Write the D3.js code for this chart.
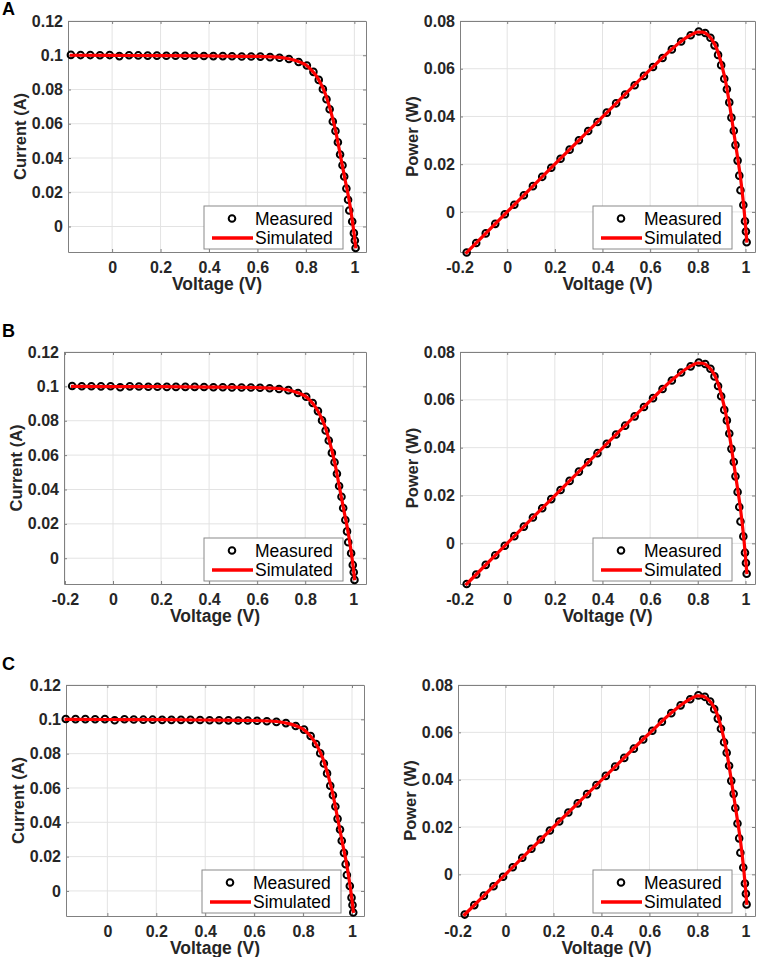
<!DOCTYPE html>
<html>
<head>
<meta charset="utf-8">
<script src="https://cdn.jsdelivr.net/npm/d3@7"></script>
<style>
  body { margin: 0; background: #fff; }
  svg { display: block; font-family: "Liberation Sans", Arial, sans-serif; }
  .tick text { font-weight: bold; font-size: 16px; fill: #262626; }
  .label { font-weight: bold; font-size: 17.5px; fill: #262626; }
  .ylabel { font-size: 16.5px; }
  .letter { font-weight: bold; font-size: 18px; fill: #000; }
  .legend text { font-size: 17.5px; fill: #000; }
</style>
</head>
<body>
<div id="chart-container"></div>
<script>
const svgWidth = 761,
    svgHeight = 957;

// measured points (same test data shown in rows A, B and C)
const voltage = [-0.17, -0.13, -0.09, -0.05, -0.01, 0.03, 0.07, 0.108, 0.147, 0.185,
    0.224, 0.262, 0.301, 0.34, 0.379, 0.418, 0.457, 0.495, 0.535, 0.574,
    0.612, 0.652, 0.691, 0.73, 0.77, 0.804, 0.831, 0.853, 0.87, 0.885,
    0.898, 0.911, 0.922, 0.932, 0.941, 0.951, 0.958, 0.967, 0.974, 0.979,
    0.991, 0.998, 1.002, 1.005];
const currentMeasured = [0.1002, 0.1001, 0.1001, 0.1, 0.1001, 0.0995, 0.1, 0.0999, 0.0998, 0.0998,
    0.0997, 0.0997, 0.0997, 0.0997, 0.0996, 0.0995, 0.0995, 0.0994, 0.0993, 0.0993,
    0.0992, 0.0989, 0.0985, 0.0978, 0.0961, 0.094, 0.0903, 0.0856, 0.0802, 0.0743,
    0.0685, 0.0613, 0.0558, 0.0492, 0.042, 0.0358, 0.0292, 0.0222, 0.0156, 0.0093,
    0.0029, -0.0039, -0.0082, -0.0126];
const powerMeasured = [-0.017, -0.013, -0.009, -0.005, -0.001, 0.003, 0.007, 0.0108, 0.0147, 0.0185,
    0.0223, 0.0261, 0.03, 0.0339, 0.0377, 0.0416, 0.0455, 0.0492, 0.0531, 0.057,
    0.0607, 0.0645, 0.0681, 0.0714, 0.074, 0.0756, 0.075, 0.073, 0.0698, 0.0658,
    0.0615, 0.0558, 0.0514, 0.0459, 0.0395, 0.034, 0.028, 0.0215, 0.0152, 0.0091,
    0.0029, -0.0039, -0.0082, -0.0127];

// simulated curve
const simVoltage = [-0.175, 0, 0.2, 0.4, 0.6, 0.7, 0.75, 0.78, 0.8, 0.82, 0.84, 0.86,
    0.88, 0.9, 0.92, 0.94, 0.96, 0.98, 0.99, 1.0, 1.006];
const simCurrent = [0.1, 0.0999, 0.0998, 0.0996, 0.0993, 0.0986, 0.0972, 0.0957, 0.0943, 0.0918, 0.0885, 0.0838,
    0.0775, 0.0685, 0.0575, 0.0432, 0.0285, 0.014, 0.005, -0.0055, -0.0128];
const simPower = [-0.0175, 0, 0.02, 0.0398, 0.0596, 0.069, 0.0729, 0.0746, 0.0754, 0.0753, 0.0743, 0.0721,
    0.0682, 0.0617, 0.0529, 0.0406, 0.0274, 0.0137, 0.005, -0.0055, -0.0129];

const currentTicks = [0, 0.02, 0.04, 0.06, 0.08, 0.1, 0.12];
const powerTicks = [0, 0.02, 0.04, 0.06, 0.08];
const voltageTicks = [0, 0.2, 0.4, 0.6, 0.8, 1];
const voltageTicksNeg = [-0.2, 0, 0.2, 0.4, 0.6, 0.8, 1];

const rowLetters = ["A", "B", "C"];

// panel boxes in pixels (left, right, top, bottom) and axis limits
const panels = [
    { row: 0, kind: "iv", l: 68, r: 366, t: 21, b: 252, xd: [-0.182, 1.048], yd: [-0.0149, 0.12], xt: voltageTicks },
    { row: 0, kind: "pv", l: 460, r: 755, t: 21, b: 252, xd: [-0.198, 1.04], yd: [-0.0168, 0.08], xt: voltageTicksNeg },
    { row: 1, kind: "iv", l: 64, r: 366, t: 352, b: 584, xd: [-0.204, 1.053], yd: [-0.015, 0.12], xt: voltageTicksNeg },
    { row: 1, kind: "pv", l: 460, r: 755, t: 352, b: 584, xd: [-0.198, 1.04], yd: [-0.017, 0.08], xt: voltageTicksNeg },
    { row: 2, kind: "iv", l: 66, r: 364, t: 685, b: 916, xd: [-0.169, 1.049], yd: [-0.0146, 0.12], xt: voltageTicks },
    { row: 2, kind: "pv", l: 458, r: 755, t: 685, b: 916, xd: [-0.198, 1.04], yd: [-0.0176, 0.08], xt: voltageTicksNeg }
];
const letterY = [15, 337, 670];

const svg = d3.select("#chart-container").append("svg")
    .attr("width", svgWidth)
    .attr("height", svgHeight);

rowLetters.forEach((s, i) => {
    svg.append("text").attr("class", "letter")
        .attr("x", 2).attr("y", letterY[i]).text(s);
});

const fmt = (d) => String(d);

panels.forEach(function (p) {
    const w = p.r - p.l, h = p.b - p.t;
    const g = svg.append("g").attr("transform", `translate(${p.l},${p.t})`);

    const x = d3.scaleLinear().domain(p.xd).range([0, w]);
    const y = d3.scaleLinear().domain(p.yd).range([h, 0]);
    const yTicks = p.kind === "iv" ? currentTicks : powerTicks;
    const yVals = p.kind === "iv" ? currentMeasured : powerMeasured;
    const simVals = p.kind === "iv" ? simCurrent : simPower;

    // grid
    g.append("g").selectAll("line")
        .data(p.xt.filter((d) => d >= p.xd[0]))
        .join("line")
        .attr("x1", (d) => x(d)).attr("x2", (d) => x(d))
        .attr("y1", 0).attr("y2", h)
        .attr("stroke", "#e3e3e3");
    g.append("g").selectAll("line")
        .data(yTicks)
        .join("line")
        .attr("y1", (d) => y(d)).attr("y2", (d) => y(d))
        .attr("x1", 0).attr("x2", w)
        .attr("stroke", "#e3e3e3");

    // axes, ticks pointing inward like matlab
    const xAxis = g.append("g").attr("transform", `translate(0,${h})`)
        .call(d3.axisBottom(x).tickValues(p.xt).tickSizeInner(-3).tickSizeOuter(0).tickPadding(7).tickFormat(fmt));
    const xTop = g.append("g")
        .call(d3.axisTop(x).tickValues(p.xt.filter((d) => d >= p.xd[0])).tickSizeInner(-3).tickSizeOuter(0).tickFormat(""));
    const yAxis = g.append("g")
        .call(d3.axisLeft(y).tickValues(yTicks).tickSizeInner(-3).tickSizeOuter(0).tickPadding(5).tickFormat(fmt));
    const yRight = g.append("g").attr("transform", `translate(${w},0)`)
        .call(d3.axisRight(y).tickValues(yTicks).tickSizeInner(-3).tickSizeOuter(0).tickFormat(""));
    [xAxis, xTop, yAxis, yRight].forEach((a) => {
        a.selectAll("path, line").attr("stroke", "#808080");
    });
    xAxis.selectAll(".tick line").filter((d) => d < p.xd[0]).remove();
    xAxis.selectAll(".tick text").attr("dy", "0.85em");

    // labels
    g.append("text").attr("class", "label")
        .attr("text-anchor", "middle")
        .attr("x", w / 2).attr("y", h + 38)
        .text("Voltage (V)");
    g.append("text").attr("class", "label ylabel")
        .attr("text-anchor", "middle")
        .attr("transform", `translate(-48,${h / 2}) rotate(-90)`)
        .attr("dy", "0.35em")
        .text(p.kind === "iv" ? "Current (A)" : "Power (W)");

    // measured points
    g.append("g").selectAll("circle")
        .data(voltage)
        .join("circle")
        .attr("cx", (d) => x(d))
        .attr("cy", (d, i) => y(yVals[i]))
        .attr("r", 3.3)
        .attr("fill", "none")
        .attr("stroke", "#000")
        .attr("stroke-width", 2);

    // simulated line
    const line = d3.line()
        .x((d) => x(d))
        .y((d, i) => y(simVals[i]))
        .curve(d3.curveMonotoneX);
    g.append("path")
        .datum(simVoltage)
        .attr("d", line)
        .attr("fill", "none")
        .attr("stroke", "#ff0000")
        .attr("stroke-width", 3.2);

    // legend
    const lw = 139, lh = 43;
    const lg = g.append("g").attr("class", "legend")
        .attr("transform", `translate(${w - 23 - lw},${h - 3 - lh})`);
    lg.append("rect").attr("width", lw).attr("height", lh)
        .attr("fill", "#fff").attr("stroke", "#8a8a8a");
    lg.append("circle").attr("cx", 28).attr("cy", 12.5).attr("r", 3.3)
        .attr("fill", "none").attr("stroke", "#000").attr("stroke-width", 2);
    lg.append("line").attr("x1", 8).attr("x2", 49).attr("y1", 32).attr("y2", 32)
        .attr("stroke", "#ff0000").attr("stroke-width", 3.3);
    lg.append("text").attr("x", 51).attr("y", 12.5).attr("dy", "0.36em").text("Measured");
    lg.append("text").attr("x", 51).attr("y", 32).attr("dy", "0.36em").text("Simulated");
});
</script>
</body>
</html>
